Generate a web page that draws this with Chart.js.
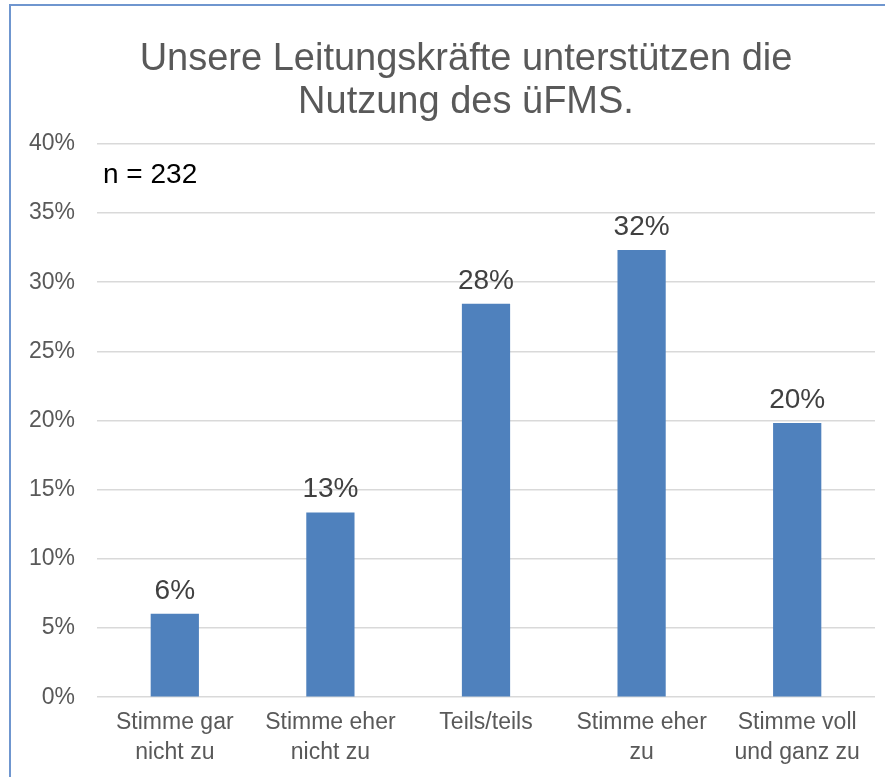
<!DOCTYPE html>
<html>
<head>
<meta charset="utf-8">
<script src="https://cdn.jsdelivr.net/npm/chart.js@4"></script>
<style>
  html, body { margin: 0; padding: 0; background: #fff; overflow: hidden; }
  #box {
    position: absolute; left: 9px; top: 4px;
    width: 910px; height: 790px;
    border: 2px solid #6f96cf;
    background: #fff;
  }
  #chart { display: block; }
</style>
</head>
<body>
<div id="box"><canvas id="chart" width="910" height="790"></canvas></div>
<script>
// categories (each label split into two lines like in the original)
const categories = [
  ["Stimme gar", "nicht zu"],
  ["Stimme eher", "nicht zu"],
  ["Teils/teils", ""],
  ["Stimme eher", "zu"],
  ["Stimme voll", "und ganz zu"]
];
// shares of the answers (n = 232)
const shares = [0.0603, 0.1336, 0.2845, 0.3233, 0.1983];
const sampleNote = "n = 232";
const chartTitle = ["Unsere Leitungskräfte unterstützen die", "Nutzung des üFMS."];

const font = "'Liberation Sans', Arial, sans-serif";

// draws the rounded percent above each bar and the n note
const labelPlugin = {
  id: "barLabels",
  afterDatasetsDraw(chart) {
    const ctx = chart.ctx;
    const meta = chart.getDatasetMeta(0);
    ctx.save();
    ctx.font = "28px " + font;
    ctx.fillStyle = "#404040";
    ctx.textAlign = "center";
    ctx.textBaseline = "alphabetic";
    meta.data.forEach((bar, i) => {
      ctx.fillText(Math.round(shares[i] * 100) + "%", bar.x, bar.y - 15);
    });
    // sample size note
    ctx.fillStyle = "#000";
    ctx.textAlign = "left";
    ctx.fillText(sampleNote, chart.chartArea.left + 6, chart.chartArea.top + 39);
    ctx.restore();
  }
};

const ctx = document.getElementById("chart").getContext("2d");
new Chart(ctx, {
  type: "bar",
  data: {
    labels: categories,
    datasets: [
      {
        data: shares,
        backgroundColor: "#4f81bd",
        borderWidth: 0,
        barPercentage: 0.31,
        categoryPercentage: 1,
      },
    ],
  },
  options: {
    responsive: false,
    animation: false,
    layout: { padding: { top: 0, right: 0, bottom: 17, left: 0 } },
    scales: {
      x: {
        grid: { display: false, drawTicks: false },
        border: { display: false },
        ticks: {
          color: "#595959",
          font: { family: font, size: 23, lineHeight: 1.3 },
          padding: 11,
          maxRotation: 0,
          autoSkip: false,
        },
      },
      y: {
        min: 0,
        max: 0.4,
        afterFit(scale) { scale.width = 86; },
        grid: { color: "#d9d9d9", lineWidth: 1.5, drawTicks: false },
        border: { display: false },
        ticks: {
          stepSize: 0.05,
          color: "#595959",
          font: { family: font, size: 23 },
          padding: 22,
          callback: (v) => Math.round(v * 100) + "%",
        },
      },
      // empty axis on the right, only to keep space so the title stays centred on the whole box
      spacer: {
        position: "right",
        display: true,
        afterFit(scale) { scale.width = 46; },
        grid: { display: false, drawTicks: false },
        border: { display: false },
        ticks: { display: false },
      },
    },
    plugins: {
      legend: { display: false },
      tooltip: { enabled: false },
      title: {
        display: true,
        text: chartTitle,
        color: "#595959",
        font: { family: font, size: 38, weight: "normal", lineHeight: 1.13 },
        padding: { top: 32, bottom: 20 },
      },
    },
  },
  plugins: [labelPlugin],
});
</script>
</body>
</html>
